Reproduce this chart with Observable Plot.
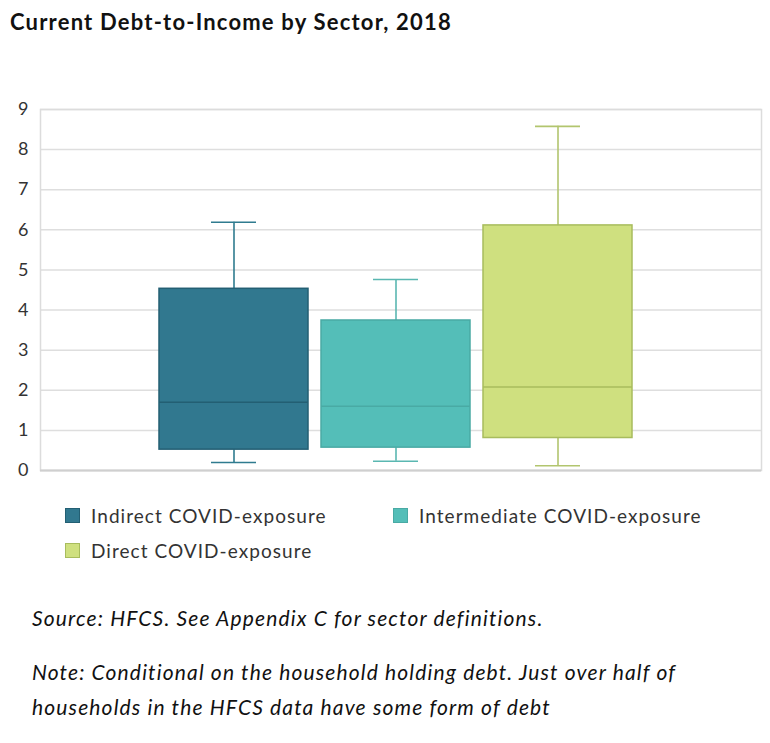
<!DOCTYPE html>
<html>
<head>
<meta charset="utf-8">
<script src="https://cdn.jsdelivr.net/npm/d3@7"></script>
<script src="https://cdn.jsdelivr.net/npm/@observablehq/plot@0.6"></script>
<style>
  html, body { margin: 0; padding: 0; background: #fff; }
  #page { position: relative; width: 770px; height: 743px; font-family: Lato, "Open Sans", sans-serif; overflow: hidden; }
  #title { position: absolute; left: 10px; top: 8px; line-height: 28px; font-size: 22px; letter-spacing: 1.2px; font-weight: bold; color: #111; white-space: nowrap; }
  #chart { position: absolute; left: 0; top: 50px; }
  #legend { position: absolute; left: 65px; top: 498px; width: 700px; font-size: 19px; letter-spacing: 1.05px; color: #333; }
  .item { display: inline-flex; align-items: center; height: 35px; width: 328px; white-space: nowrap; }
  .sw { width: 15px; height: 15px; margin-right: 11px; box-sizing: border-box; border: 1px solid; }
  #notes { position: absolute; left: 32px; top: 600px; font-size: 21px; letter-spacing: 1.15px; font-style: italic; color: #111; }
  #notes p { margin: 0; line-height: 35px; white-space: nowrap; }
</style>
</head>
<body>
<div id="page">
  <div id="title"></div>
  <div id="chart"></div>
  <div id="legend"></div>
  <div id="notes"></div>
</div>
<script>
const titleText = "Current Debt-to-Income by Sector, 2018";
const categories = ["Indirect COVID-exposure", "Intermediate COVID-exposure", "Direct COVID-exposure"];
const whiskerLow = [0.20, 0.23, 0.12];
const q1 = [0.52, 0.57, 0.81];
const median = [1.70, 1.60, 2.08];
const q3 = [4.53, 3.74, 6.11];
const whiskerHigh = [6.19, 4.76, 8.58];
const yTicks = [0, 1, 2, 3, 4, 5, 6, 7, 8, 9];
const fillColors = ["#31788f", "#54beb8", "#cfe07f"];
const strokeColors = ["#235f73", "#49aaa4", "#a8bc5d"];
const whiskerColors = ["#2f7b8f", "#5ab7b1", "#b2c56e"];
const sourceText = "Source: HFCS. See Appendix C for sector definitions.";
const noteLines = ["Note: Conditional on the household holding debt. Just over half of", "households in the HFCS data have some form of debt"];

const data = categories.map((c, i) => ({
  cat: c, lo: whiskerLow[i], q1: q1[i], med: median[i], q3: q3[i], hi: whiskerHigh[i],
  fill: fillColors[i], stroke: strokeColors[i], wcol: whiskerColors[i]
}));

document.getElementById("title").textContent = titleText;

const chart = Plot.plot({
  width: 770,
  height: 430,
  marginLeft: 40,
  marginRight: 9,
  marginTop: 59,
  marginBottom: 10,
  style: { fontFamily: "Lato, 'Open Sans', sans-serif", background: "#fff" },
  x: { type: "band", domain: categories, paddingInner: 0.08, paddingOuter: 0.765, align: 0.48, axis: null },
  y: { domain: [0, 9], axis: null },
  color: { type: "identity" },
  marks: [
    Plot.gridY(yTicks, { stroke: "#dedede", strokeOpacity: 1, strokeWidth: 1.5 }),
    Plot.frame({ stroke: "#dcdcdc", strokeWidth: 1.5 }),
    Plot.ruleY([0], { stroke: "#cfcfcf", strokeWidth: 2 }),
    Plot.axisY(yTicks, { tickSize: 0, tickPadding: 12, fontSize: 18, fill: "#333", tickFormat: d => String(d) }),
    Plot.ruleX(data, { x: "cat", y1: "lo", y2: "q1", stroke: "wcol", strokeWidth: 1.6 }),
    Plot.ruleX(data, { x: "cat", y1: "q3", y2: "hi", stroke: "wcol", strokeWidth: 1.6 }),
    Plot.tickY(data, { x: "cat", y: "lo", stroke: "wcol", strokeWidth: 1.6, insetLeft: 52, insetRight: 52 }),
    Plot.tickY(data, { x: "cat", y: "hi", stroke: "wcol", strokeWidth: 1.6, insetLeft: 52, insetRight: 52 }),
    Plot.barY(data, { x: "cat", y1: "q1", y2: "q3", fill: "fill", stroke: "stroke", strokeWidth: 1.5 }),
    Plot.tickY(data, { x: "cat", y: "med", stroke: "stroke", strokeWidth: 1.5 })
  ]
});
document.getElementById("chart").appendChild(chart);

const legend = d3.select("#legend");
categories.forEach((c, i) => {
  const it = legend.append("span").attr("class", "item");
  it.append("span").attr("class", "sw").style("background", fillColors[i]).style("border-color", strokeColors[i]);
  it.append("span").text(c);
});

const notes = d3.select("#notes");
notes.append("p").text(sourceText).style("margin-bottom", "19px");
noteLines.forEach(l => notes.append("p").text(l));
</script>
</body>
</html>
